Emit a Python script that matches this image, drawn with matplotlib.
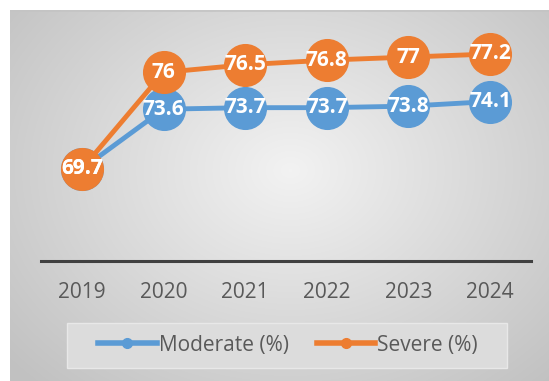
import numpy as np
import matplotlib.pyplot as plt
from matplotlib.lines import Line2D
from matplotlib.patches import Rectangle

years = ["2019", "2020", "2021", "2022", "2023", "2024"]
moderate = [69.7, 73.6, 73.7, 73.7, 73.8, 74.1]
severe = [69.7, 76, 76.5, 76.8, 77, 77.2]

blue = "#5B9BD5"
orange = "#ED7D31"
grey_txt = "#595959"

W, H = 549, 381
fig = plt.figure(figsize=(W / 100, H / 100), dpi=100)
fig.patch.set_facecolor("white")

# chart area background: soft radial gradient
bg = fig.add_axes([10 / W, 0, (W - 10) / W, (H - 10) / H])
yy, xx = np.mgrid[0:371, 0:539]
r = np.sqrt(((xx - 280) / 330) ** 2 + ((yy - 160) / 260) ** 2)
shade = np.clip(0.95 - 0.17 * r, 0.76, 0.95)
bg.imshow(np.dstack([shade] * 3), aspect="auto", interpolation="bilinear")
bg.axhline(0.5, color="#c4c4c4", lw=1.2)
bg.set_axis_off()

ax = fig.add_axes([41 / W, (H - 261) / H, 490 / W, 234.6 / H])
ax.patch.set_alpha(0)
x = np.arange(len(years))

ax.plot(x, moderate, color=blue, lw=3.5, marker="o", ms=30, zorder=3)
ax.plot(x, severe, color=orange, lw=3.5, marker="o", ms=30, zorder=4)

for xi, v in zip(x, moderate):
    ax.text(xi, v, f"{v:g}", ha="center", va="center", color="white",
            fontsize=15, fontweight="bold", family="Open Sans", zorder=6)
for xi, v in zip(x, severe):
    ax.text(xi, v, f"{v:g}", ha="center", va="center", color="white",
            fontsize=15, fontweight="bold", family="Open Sans", zorder=7)

ax.set_xlim(-0.5, len(years) - 0.5)
ax.set_ylim(63.7, 79)
ax.set_xticks(x)
ax.set_xticklabels(years, fontsize=15, color=grey_txt, family="Open Sans")
ax.set_yticks([])
ax.tick_params(axis="x", length=0, pad=15)
for s in ["top", "right", "left"]:
    ax.spines[s].set_visible(False)
ax.spines["bottom"].set_color("#404040")
ax.spines["bottom"].set_linewidth(2.2)

# legend box
fig.patches.append(Rectangle((66.5 / W, (H - 367.7) / H), 440 / W, 45 / H,
                             transform=fig.transFigure, facecolor="#dcdcdc",
                             edgecolor="#e8e8e8", lw=1, zorder=1))
handles = [
    Line2D([], [], color=blue, lw=4, marker="o", ms=7),
    Line2D([], [], color=orange, lw=4, marker="o", ms=7),
]
leg = fig.legend(handles, ["Moderate (%)", "Severe (%)"], loc="center",
                 bbox_to_anchor=(288 / W, (H - 345) / H), ncol=2, frameon=False,
                 handlelength=2.8, handletextpad=0.1, columnspacing=1.35,
                 prop={"family": "Open Sans", "size": 15})
for t in leg.get_texts():
    t.set_color(grey_txt)
leg.set_zorder(5)

fig.savefig("out.png", dpi=100, facecolor="white")
